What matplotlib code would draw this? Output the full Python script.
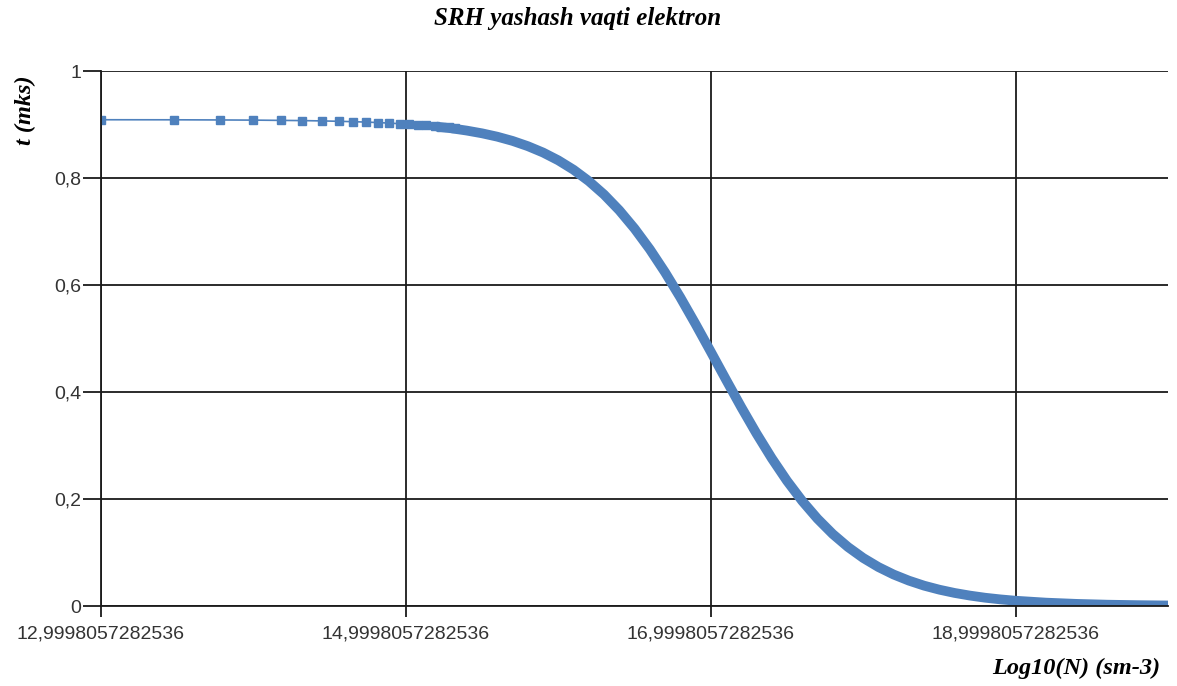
import numpy as np
import matplotlib.pyplot as plt

# Log10(N) and SRH electron lifetime (mks), sparse start of the series
x_sparse = [13.0, 13.48, 13.78, 14.0, 14.18, 14.32, 14.45, 14.56, 14.65, 14.74,
            14.82, 14.89, 14.96, 15.02, 15.08, 15.13, 15.19, 15.23, 15.28, 15.32]
t_sparse = [0.9089, 0.9088, 0.9085, 0.9082, 0.9077, 0.9073, 0.9067, 0.9060, 0.9053, 0.9045,
            0.9036, 0.9026, 0.9015, 0.9004, 0.8993, 0.8982, 0.8970, 0.8960, 0.8948, 0.8938]

# dense part of the series (points overlap into a thick band)
x_dense = [15.2, 15.3, 15.4, 15.5, 15.6, 15.7, 15.8, 15.9, 16.0,
           16.1, 16.2, 16.3, 16.4, 16.5, 16.6, 16.7, 16.8, 16.9, 17.0,
           17.1, 17.2, 17.3, 17.4, 17.5, 17.6, 17.7, 17.8, 17.9, 18.0,
           18.1, 18.2, 18.3, 18.4, 18.5, 18.6, 18.7, 18.8, 18.9, 19.0,
           19.2, 19.4, 19.6, 19.8, 20.0]
t_dense = [0.8961, 0.8928, 0.8886, 0.8835, 0.8772, 0.8693, 0.8595, 0.8476, 0.8330,
           0.8154, 0.7942, 0.7691, 0.7396, 0.7055, 0.6669, 0.6238, 0.5770, 0.5271, 0.4754,
           0.4231, 0.3717, 0.3224, 0.2762, 0.2340, 0.1963, 0.1632, 0.1346, 0.1103, 0.0898,
           0.0728, 0.0588, 0.0474, 0.0380, 0.0305, 0.0244, 0.0195, 0.0155, 0.0124, 0.0099,
           0.0063, 0.0040, 0.0025, 0.0016, 0.0010]

x_ticks = [12.9998057282536, 14.9998057282536, 16.9998057282536, 18.9998057282536]
x_labels = ["12,9998057282536", "14,9998057282536", "16,9998057282536", "18,9998057282536"]
y_ticks = [0, 0.2, 0.4, 0.6, 0.8, 1.0]
y_labels = ["0", "0,2", "0,4", "0,6", "0,8", "1"]

blue = "#4F81BD"

fig = plt.figure(figsize=(11.77, 6.86), dpi=100)
ax = fig.add_axes([0.0858, 0.1166, 0.9066, 0.7799])

ax.plot(x_dense, t_dense, color=blue, lw=7.0, solid_capstyle="butt", solid_joinstyle="round")
ax.plot(x_sparse, t_sparse, color=blue, lw=1.2, marker="s", ms=5.8, mec=blue, mfc=blue)

ax.set_xlim(12.9998057282536, 20.0)
ax.set_ylim(0, 1)
ax.set_xticks(x_ticks)
ax.set_xticklabels(x_labels)
ax.set_yticks(y_ticks)
ax.set_yticklabels(y_labels)

ax.grid(True, color="#1a1a1a", lw=1.3)
for s in ["top", "right"]:
    ax.spines[s].set_visible(False)
for s in ["left", "bottom"]:
    ax.spines[s].set_color("#1a1a1a")
    ax.spines[s].set_linewidth(1.3)
    ax.spines[s].set_zorder(3)

ax.tick_params(axis="x", length=8, width=1.3, color="#1a1a1a", pad=6,
               labelsize=14, labelcolor="#333333")
ax.tick_params(axis="y", length=13, width=1.3, color="#1a1a1a", pad=1,
               labelsize=14, labelcolor="#333333")
for lab in ax.get_xticklabels() + ax.get_yticklabels():
    lab.set_family("Liberation Sans")

fig.text(0.491, 0.973, "SRH yashash vaqti elektron", ha="center", va="center",
         family="Liberation Serif", style="italic", weight="bold", fontsize=18)
fig.text(0.022, 0.84, "t (mks)", ha="center", va="center", rotation=90,
         family="Liberation Serif", style="italic", weight="bold", fontsize=17.5)
fig.text(0.986, 0.026, "Log10(N) (sm-3)", ha="right", va="center",
         family="Liberation Serif", style="italic", weight="bold", fontsize=17.5)

fig.savefig("out.png", dpi=100)
